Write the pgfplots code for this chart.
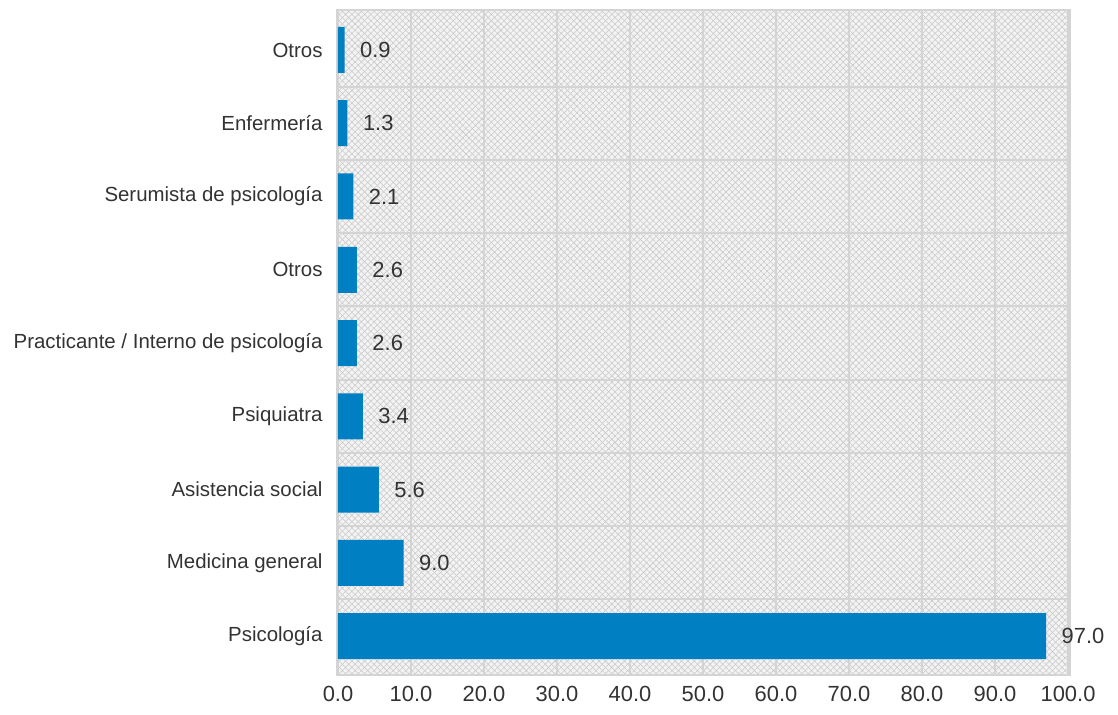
\documentclass[border=0pt]{standalone}
\usepackage{fontspec}
\setmainfont{Liberation Sans}
\usepackage{pgfplots}
\pgfplotsset{compat=1.18}
\usetikzlibrary{patterns.meta}
\definecolor{barblue}{HTML}{0080C3}
\definecolor{gridgray}{HTML}{D4D4D4}
\definecolor{txt}{HTML}{333333}
\definecolor{bggray}{HTML}{F3F3F3}
\definecolor{hatch}{HTML}{C8C8C8}
\begin{document}
\begin{tikzpicture}
\begin{axis}[
  scale only axis,
  width=733bp, height=665bp,
  xbar, bar width=46bp,
  xmin=-0.137, xmax=100.27,
  ymin=-0.532, ymax=8.546,
  xtick={0,10,...,100},
  xticklabel={\pgfmathprintnumber[fixed,fixed zerofill,precision=1]{\tick}},
  ytick={0,...,8},
  yticklabels={Psicología, Medicina general, Asistencia social, Psiquiatra, Practicante / Interno de psicología, Otros, Serumista de psicología, Enfermería, Otros},
  minor ytick={0.5,1.5,...,7.5},
  ymajorgrids=false,
  xmajorgrids=true,
  yminorgrids=true,
  major grid style={gridgray, line width=2bp},
  minor grid style={gridgray, line width=2bp},
  major tick length=0pt, minor tick length=0pt,
  axis line style={gridgray, line width=2.5bp},
  xticklabel style={font=\fontsize{22}{26}\selectfont, text=txt, yshift=-8bp},
  yticklabel style={font=\fontsize{20.5}{24}\selectfont, text=txt, xshift=-11bp},
  /pgf/number format/assume math mode=true,
  axis background/.style={fill=bggray,
    postaction={pattern={Lines[angle=45,distance=4.5pt,line width=0.55pt]}, pattern color=hatch},
    postaction={pattern={Lines[angle=-45,distance=4.5pt,line width=0.55pt]}, pattern color=hatch}},
  nodes near coords={\pgfmathprintnumber[fixed,fixed zerofill,precision=1]{\pgfplotspointmeta}},
  point meta=x,
  nodes near coords style={font=\fontsize{22}{26}\selectfont, text=txt, anchor=west, xshift=12bp},
]
\addplot[fill=barblue, draw=none] coordinates {
  (97.0,0) (9.0,1) (5.6,2) (3.4,3) (2.6,4) (2.6,5) (2.1,6) (1.3,7) (0.9,8)
};
\end{axis}
\pgfresetboundingbox
\path[use as bounding box] (-337bp,-40bp) rectangle (781bp,675bp);
\end{tikzpicture}
\end{document}
